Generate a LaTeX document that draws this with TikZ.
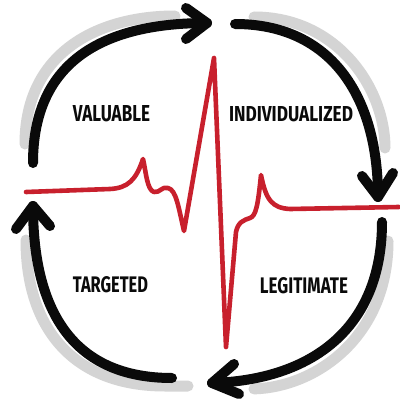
\documentclass[tikz,border=0pt]{standalone}
\usepackage{fontspec}
\setmainfont{Fira Sans}
\usepackage{graphicx}
\definecolor{ecgred}{RGB}{200,32,45}
\definecolor{shade}{RGB}{212,212,212}
\definecolor{ink}{RGB}{10,10,10}
\tikzset{
  cyclearc/.style={draw=ink, line width=10pt, line cap=round, line join=round},
  shadowarc/.style={draw=shade, line width=11pt, line cap=round},
  ecg/.style={draw=ecgred, line width=4.6pt, line cap=round, line join=round},
  lbl/.style={inner sep=0pt, text=ink, font=\bfseries}
}
\begin{document}
\begin{tikzpicture}[x=1pt,y=-1pt]
\fill[white] (0,0) rectangle (399,404);
\useasboundingbox (0,0) rectangle (399,404);

% gray shadows (offset copies of the arcs)
\draw[shadowarc, shift={(-8,-7)}, shorten <=12pt, shorten >=24pt]
  (33,163) .. controls (33,60) and (105,23) .. (207,23);
\draw[shadowarc, shift={(7,-7)}, shorten <=12pt, shorten >=42pt]
  (235,24) .. controls (330,24) and (378,95) .. (378,197);
\draw[shadowarc, shift={(-7,8)}, shorten >=26pt]
  (195,378) -- (172,378) .. controls (80,378) and (33,320) .. (33,206);
\draw[shadowarc, shift={(6,7)}, shorten <=12pt, shorten >=36pt]
  (382,222) .. controls (382,330) and (310,380) .. (212,383);

% arrow arcs
\coordinate (tlS) at (33,163);  \coordinate (tlT) at (207,23);
\coordinate (trS) at (235,24);  \coordinate (trT) at (378,197);
\coordinate (blS) at (172,378); \coordinate (blT) at (33,206);
\coordinate (brS) at (382,222); \coordinate (brT) at (212,383);

\draw[cyclearc] (tlS) .. controls (33,60) and (105,23) .. (tlT);
\draw[cyclearc] (186,8) -- (tlT) -- (186,39);

\draw[cyclearc] (trS) .. controls (330,24) and (378,95) .. (trT);
\draw[cyclearc] (362,176) -- (trT) -- (393,173);

\draw[cyclearc] (blS) .. controls (80,378) and (33,320) .. (blT);
\draw[cyclearc] (16,229) -- (blT) -- (50,226);

\draw[cyclearc] (brS) .. controls (382,330) and (310,380) .. (brT);
\draw[cyclearc] (234,364) -- (brT) -- (239,394);

% ECG trace
\draw[ecg] (26,192) -- (110,189) .. controls (128,188) and (136,180) .. (143,159)
  .. controls (146,172) and (147,190) .. (154,192)
  .. controls (160,193) and (162,186) .. (168,188)
  .. controls (176,190) and (178,205) .. (184,231)
  -- (214,58) -- (226,347)
  -- (236,232) .. controls (238,222) and (244,220) .. (250,218)
  .. controls (256,216) and (258,205) .. (261,175)
  .. controls (266,200) and (272,208) .. (290,209)
  -- (399,207);

% labels
\node[lbl] (valuable) at (111.5,113.5) {\resizebox{77pt}{16pt}{VALUABLE}};
\node[lbl] (individualized) at (291,114) {\resizebox{124pt}{15pt}{INDIVIDUALIZED}};
\node[lbl] (targeted) at (110.5,285) {\resizebox{75pt}{16pt}{TARGETED}};
\node[lbl] (legitimate) at (304,286) {\resizebox{88pt}{16pt}{LEGITIMATE}};
\end{tikzpicture}
\end{document}
